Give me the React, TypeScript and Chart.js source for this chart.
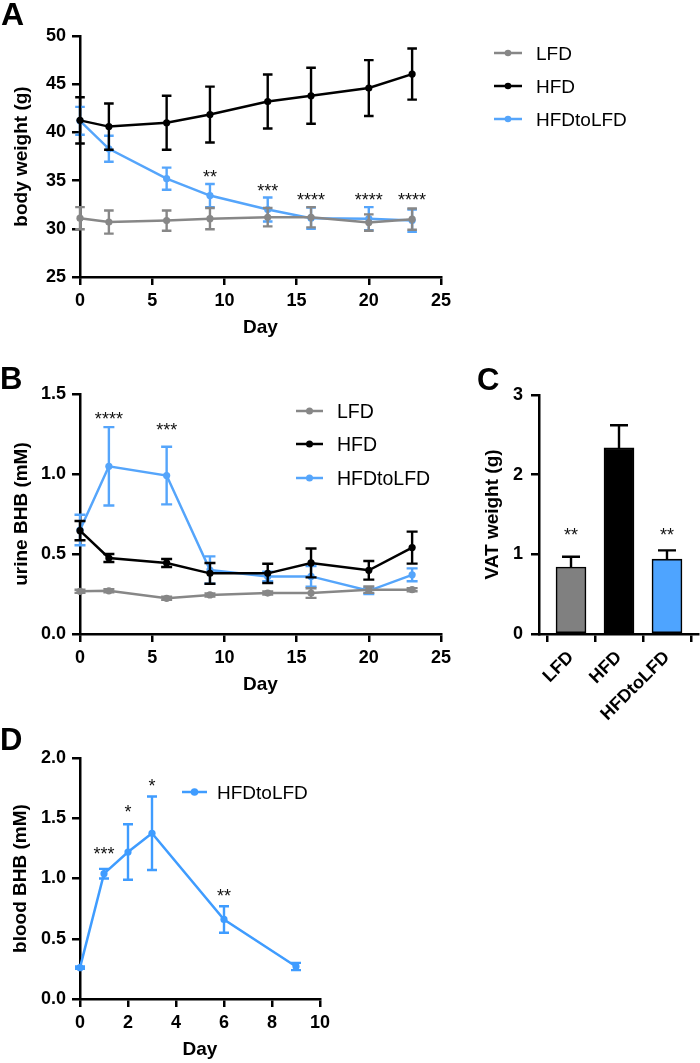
import React, { useEffect, useRef } from "react";
import { Chart, registerables } from "chart.js";
Chart.register(...registerables);

const FONT = "'Liberation Sans', Arial, Helvetica, sans-serif";
const GRAY = "#878787";
const BLACK = "#000000";
const BLUE = "#55a5fb";
const BLUE_D = "#3f9cff";
const BAR_GRAY = "#808080";
const BAR_BLUE = "#4ea4ff";

// ---------- Panel A: body weight ----------
const seriesNames = ["LFD", "HFD", "HFDtoLFD"];
const aDays = [0, 2, 6, 9, 13, 16, 20, 23];
const aLFD = [31.1, 30.7, 30.85, 31.05, 31.2, 31.2, 30.65, 31.0];
const aLFDErr = [1.15, 1.2, 1.05, 1.1, 0.95, 1.05, 0.85, 1.1];
const aHFD = [41.25, 40.6, 41.0, 41.85, 43.2, 43.8, 44.6, 46.05];
const aHFDErr = [2.4, 2.4, 2.8, 2.9, 2.8, 2.9, 2.9, 2.65];
const aSwitch = [41.2, 38.3, 35.2, 33.45, 32.0, 31.1, 31.05, 30.85];
const aSwitchErr = [1.45, 1.35, 1.15, 1.2, 1.25, 1.1, 1.2, 1.15];
const aSigDays = [9, 13, 16, 20, 23];
const aSigText = ["**", "***", "****", "****", "****"];
const aSigY = [35.8, 34.4, 33.4, 33.4, 33.4];

// ---------- Panel B: urine BHB ----------
const bDays = [0, 2, 6, 9, 13, 16, 20, 23];
const bLFD = [0.267, 0.27, 0.223, 0.244, 0.256, 0.256, 0.277, 0.277];
const bLFDErr = [0.01, 0.01, 0.01, 0.01, 0.01, 0.03, 0.02, 0.01];
const bHFD = [0.646, 0.475, 0.444, 0.379, 0.379, 0.444, 0.398, 0.54];
const bHFDErr = [0.06, 0.025, 0.025, 0.065, 0.06, 0.09, 0.058, 0.1];
const bSwitch = [0.65, 1.048, 0.99, 0.4, 0.36, 0.36, 0.27, 0.37];
const bSwitchErr = [0.095, 0.245, 0.18, 0.085, 0.03, 0.065, 0.02, 0.04];
const bSigDays = [2, 6];
const bSigText = ["****", "***"];
const bSigY = [1.37, 1.3];

// ---------- Panel C: VAT weight ----------
const cGroups = ["LFD", "HFD", "HFDtoLFD"];
const cValues = [0.84, 2.336, 0.94];
const cErr = [0.13, 0.285, 0.11];
const cSigText = ["**", "", "**"];
const cSigY = [1.3, 0, 1.3];

// ---------- Panel D: blood BHB ----------
const dDays = [0, 1, 2, 3, 6, 9];
const dVals = [0.26, 1.04, 1.22, 1.375, 0.66, 0.27];
const dErr = [0.01, 0.04, 0.23, 0.305, 0.11, 0.03];
const dSigDays = [1, 2, 3, 6];
const dSigText = ["***", "*", "*", "**"];
const dSigY = [1.24, 1.59, 1.8, 0.89];

// ---------- plugins ----------
const errorBarPlugin = {
  id: "errorBars",
  beforeDatasetDraw(chart: any, args: any) {
    const ds: any = chart.data.datasets[args.index];
    if (!ds.errors) return;
    const yScale = chart.scales.y;
    const ctx = chart.ctx;
    ctx.save();
    ctx.strokeStyle = ds.errorColor || ds.borderColor;
    ctx.lineWidth = ds.errorWidth || 2.4;
    ctx.lineCap = "butt";
    const cap = ds.capHalf || 5;
    args.meta.data.forEach((el: any, i: number) => {
      const raw = ds.data[i];
      const v = typeof raw === "number" ? raw : raw.y;
      const e = ds.errors[i];
      if (!e) return;
      const x = el.x;
      const yTop = yScale.getPixelForValue(v + e);
      const yBot = ds.errorMode === "up" ? yScale.getPixelForValue(v) : yScale.getPixelForValue(v - e);
      ctx.beginPath();
      ctx.moveTo(x, yTop);
      ctx.lineTo(x, yBot);
      ctx.moveTo(x - cap, yTop);
      ctx.lineTo(x + cap, yTop);
      if (ds.errorMode !== "up") {
        ctx.moveTo(x - cap, yBot);
        ctx.lineTo(x + cap, yBot);
      }
      ctx.stroke();
    });
    ctx.restore();
  },
};

const sigPlugin = {
  id: "sig",
  afterDatasetsDraw(chart: any, _a: any, opts: any) {
    if (!opts || !opts.items) return;
    const ctx = chart.ctx;
    const size = opts.size || 18;
    ctx.save();
    ctx.fillStyle = "#111";
    ctx.font = `${size}px ${FONT}`;
    ctx.textAlign = "center";
    ctx.textBaseline = "alphabetic";
    opts.items.forEach((it: any) => {
      if (!it.text) return;
      const x = chart.scales.x.getPixelForValue(it.x);
      const y = chart.scales.y.getPixelForValue(it.y) + size * 0.57;
      ctx.fillText(it.text, x, y);
    });
    ctx.restore();
  },
};

const sideLegendPlugin = {
  id: "sideLegend",
  afterDraw(chart: any, _a: any, opts: any) {
    if (!opts || !opts.rows) return;
    const ctx = chart.ctx;
    const size = opts.size || 19;
    ctx.save();
    chart.data.datasets.forEach((ds: any, i: number) => {
      const y = opts.rows[i];
      ctx.strokeStyle = ds.borderColor;
      ctx.lineWidth = 2.5;
      ctx.beginPath();
      ctx.moveTo(opts.x1, y);
      ctx.lineTo(opts.x2, y);
      ctx.stroke();
      ctx.fillStyle = ds.borderColor;
      ctx.beginPath();
      ctx.arc((opts.x1 + opts.x2) / 2, y, opts.r || 3.5, 0, Math.PI * 2);
      ctx.fill();
      ctx.fillStyle = "#000";
      ctx.font = `${size}px ${FONT}`;
      ctx.textAlign = "left";
      ctx.textBaseline = "alphabetic";
      ctx.fillText(ds.label, opts.textX, y + size * 0.358);
    });
    ctx.restore();
  },
};

const panelLetterPlugin = {
  id: "panelLetter",
  afterDraw(chart: any, _a: any, opts: any) {
    if (!opts || !opts.text) return;
    const ctx = chart.ctx;
    ctx.save();
    ctx.fillStyle = "#000";
    ctx.font = `bold ${opts.size || 31}px ${FONT}`;
    ctx.textAlign = "left";
    ctx.textBaseline = "alphabetic";
    ctx.fillText(opts.text, opts.x, opts.y);
    ctx.restore();
  },
};

const PLUGINS = [errorBarPlugin, sigPlugin, sideLegendPlugin, panelLetterPlugin];

// ---------- helpers ----------
const tickFont = { size: 18, weight: "bold" as const, family: FONT };
const titleFont = { size: 19, weight: "bold" as const, family: FONT };

function gridStyle() {
  return {
    display: true,
    drawOnChartArea: false,
    drawTicks: true,
    tickLength: 8,
    color: "#000",
    lineWidth: 2.5,
  };
}
function borderStyle() {
  return { display: true, color: "#000", width: 2.5 };
}

function xAxis(min: number, max: number, step: number, title: string | null, height: number, pad = 5) {
  return {
    type: "linear",
    min,
    max,
    grid: gridStyle(),
    border: borderStyle(),
    ticks: { stepSize: step, font: tickFont, color: "#000", padding: pad, maxRotation: 0, autoSkip: false },
    title: title
      ? { display: true, text: title, font: titleFont, color: "#000", padding: { top: 0, bottom: 0 } }
      : { display: false },
    afterFit(s: any) {
      s.height = height;
    },
  };
}

function yAxis(min: number, max: number, step: number, title: string, width: number, titlePad: number, fmt: (v: number) => string, pad = 6) {
  return {
    type: "linear",
    min,
    max,
    grid: gridStyle(),
    border: borderStyle(),
    ticks: { stepSize: step, font: tickFont, color: "#000", padding: pad, callback: (v: any) => fmt(Number(v)) },
    title: { display: true, text: title, font: titleFont, color: "#000", padding: { top: titlePad, bottom: 0 } },
    afterFit(s: any) {
      s.width = width;
    },
  };
}

function lineDs(label: string, days: number[], vals: number[], errs: number[], color: string, capHalf: number) {
  return {
    label,
    data: days.map((d, i) => ({ x: d, y: vals[i] })),
    errors: errs,
    capHalf,
    borderColor: color,
    backgroundColor: color,
    pointBackgroundColor: color,
    pointBorderColor: color,
    pointRadius: 3.6,
    pointBorderWidth: 0,
    borderWidth: 2.5,
    tension: 0,
    clip: false,
  };
}

function sigItems(days: number[], texts: string[], ys: number[]) {
  return days.map((d, i) => ({ x: d, y: ys[i], text: texts[i] }));
}

const baseOpts = {
  responsive: false,
  animation: false,
  devicePixelRatio: 1,
  events: [],
};

// ---------- configs ----------
function configA(): any {
  return {
    type: "line",
    data: {
      datasets: [
        lineDs(seriesNames[0], aDays, aLFD, aLFDErr, GRAY, 4.8),
        lineDs(seriesNames[1], aDays, aHFD, aHFDErr, BLACK, 4.8),
        lineDs(seriesNames[2], aDays, aSwitch, aSwitchErr, BLUE, 4.8),
      ],
    },
    plugins: PLUGINS,
    options: {
      ...baseOpts,
      layout: { padding: { left: 0, top: 36, right: 259, bottom: 6 } },
      scales: {
        x: xAxis(0, 25, 5, "Day", 62),
        y: yAxis(25, 50, 5, "body weight (g)", 80, 10.5, (v) => String(v)),
      },
      plugins: {
        legend: { display: false },
        tooltip: { enabled: false },
        sig: { items: sigItems(aSigDays, aSigText, aSigY), size: 18 },
        sideLegend: { rows: [53, 86, 119], x1: 494, x2: 522, textX: 536, size: 19, r: 3.3 },
        panelLetter: { text: "A", x: 1, y: 25, size: 32 },
      },
    },
  };
}

function configB(): any {
  return {
    type: "line",
    data: {
      datasets: [
        lineDs(seriesNames[0], bDays, bLFD, bLFDErr, GRAY, 5.5),
        lineDs(seriesNames[1], bDays, bHFD, bHFDErr, BLACK, 5.5),
        lineDs(seriesNames[2], bDays, bSwitch, bSwitchErr, BLUE, 5.5),
      ],
    },
    plugins: PLUGINS,
    options: {
      ...baseOpts,
      layout: { padding: { left: 0, top: 49, right: 19, bottom: 9 } },
      scales: {
        x: xAxis(0, 25, 5, "Day", 62),
        y: yAxis(0, 1.5, 0.5, "urine BHB (mM)", 80, 10.5, (v) => v.toFixed(1)),
      },
      plugins: {
        legend: { display: false },
        tooltip: { enabled: false },
        sig: { items: sigItems(bSigDays, bSigText, bSigY), size: 18 },
        sideLegend: { rows: [66, 99, 133], x1: 296, x2: 323, textX: 337, size: 19.5, r: 3.5 },
        panelLetter: { text: "B", x: 0, y: 44, size: 31 },
      },
    },
  };
}

function configC(): any {
  return {
    type: "bar",
    data: {
      datasets: [
        {
          label: "VAT",
          data: cValues.map((v, i) => ({ x: i, y: v })),
          errors: cErr,
          errorMode: "up",
          errorColor: "#000",
          errorWidth: 2.4,
          capHalf: 9,
          backgroundColor: [BAR_GRAY, BLACK, BAR_BLUE],
          borderColor: "#000",
          borderWidth: 1.6,
          barThickness: 30,
          borderSkipped: false,
        },
      ],
    },
    plugins: PLUGINS,
    options: {
      ...baseOpts,
      layout: { padding: { left: 0, top: 50, right: 2, bottom: 0 } },
      scales: {
        x: {
          type: "linear",
          min: -0.667,
          max: 2.646,
          offset: false,
          grid: gridStyle(),
          border: borderStyle(),
          afterBuildTicks(s: any) {
            s.ticks = cGroups.map((_, i) => ({ value: i }));
          },
          ticks: {
            font: tickFont,
            color: "#000",
            padding: 5,
            minRotation: 45,
            maxRotation: 45,
            autoSkip: false,
            callback: (v: any) => cGroups[Number(v)] ?? "",
          },
          afterFit(s: any) {
            s.height = 91;
          },
        },
        y: yAxis(0, 3, 1, "VAT weight (g)", 79, 21.5, (v) => String(v), 8),
      },
      plugins: {
        legend: { display: false },
        tooltip: { enabled: false },
        sig: { items: cGroups.map((_, i) => ({ x: i, y: cSigY[i], text: cSigText[i] })), size: 18 },
        panelLetter: { text: "C", x: 17, y: 45, size: 31 },
      },
    },
  };
}

function configD(): any {
  return {
    type: "line",
    data: {
      datasets: [lineDs(seriesNames[2], dDays, dVals, dErr, BLUE_D, 5)],
    },
    plugins: PLUGINS,
    options: {
      ...baseOpts,
      layout: { padding: { left: 0, top: 53, right: 140, bottom: 2 } },
      scales: {
        x: xAxis(0, 10, 2, "Day", 62),
        y: yAxis(0, 2, 0.5, "blood BHB (mM)", 80, 9, (v) => v.toFixed(1)),
      },
      plugins: {
        legend: { display: false },
        tooltip: { enabled: false },
        sig: { items: sigItems(dSigDays, dSigText, dSigY), size: 18 },
        sideLegend: { rows: [87], x1: 182, x2: 207, textX: 217, size: 19, r: 3.8 },
        panelLetter: { text: "D", x: 0, y: 45, size: 31 },
      },
    },
  };
}

function ChartBox(props: { make: () => any; left: number; top: number; width: number; height: number }) {
  const ref = useRef<HTMLCanvasElement>(null);
  useEffect(() => {
    const chart = new Chart(ref.current as HTMLCanvasElement, props.make());
    return () => chart.destroy();
  }, []);
  return (
    <canvas
      ref={ref}
      width={props.width}
      height={props.height}
      style={{ position: "absolute", left: props.left, top: props.top, width: props.width, height: props.height }}
    />
  );
}

export default function App() {
  Chart.defaults.font.family = FONT;
  Chart.defaults.color = "#000";
  return (
    <div style={{ position: "absolute", left: 0, top: 0, width: 700, height: 1063, background: "#fff" }}>
      <ChartBox make={configA} left={0} top={0} width={700} height={345} />
      <ChartBox make={configB} left={0} top={345} width={460} height={360} />
      <ChartBox make={configC} left={460} top={345} width={240} height={380} />
      <ChartBox make={configD} left={0} top={705} width={460} height={358} />
    </div>
  );
}
